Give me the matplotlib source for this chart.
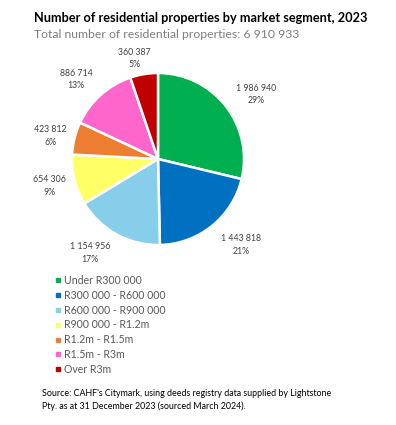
import numpy as np
import matplotlib.pyplot as plt
from matplotlib.lines import Line2D

plt.rcParams['font.family'] = ['Lato', 'DejaVu Sans']

segments = ['Under R300 000', 'R300 000 - R600 000', 'R600 000 - R900 000',
            'R900 000 - R1.2m', 'R1.2m - R1.5m', 'R1.5m - R3m', 'Over R3m']
counts = [1986940, 1443818, 1154956, 654306, 423812, 886714, 360387]
count_labels = ['1 986 940', '1 443 818', '1 154 956', '654 306', '423 812', '886 714', '360 387']
pct_labels = ['29%', '21%', '17%', '9%', '6%', '13%', '5%']
colors = ['#00B050', '#0070C0', '#87CEEB', '#FFFF66', '#ED7D31', '#FF66CC', '#C00000']

# how far out each data label sits (in pie radii), like the Excel best-fit placement
label_dist = [1.37, 1.39, 1.35, 1.30, 1.28, 1.33, 1.20]
label_turn = [-5, 5, -7, 0, 2, 4, 4]  # small angular nudges, degrees

fig = plt.figure(figsize=(3.96, 4.25), dpi=100)

fig.text(34 / 396, 1 - 18 / 425, 'Number of residential properties by market segment, 2023',
         fontsize=9.2, fontweight='bold', color='black', va='center', ha='left')
fig.text(34 / 396, 1 - 35 / 425, 'Total number of residential properties: 6 910 933',
         fontsize=8.8, color='#7f7f7f', va='center', ha='left')

ax = fig.add_axes([72 / 396, 1 - 245 / 425, 172 / 396, 172 / 425])
labels = [f'{c}\n{p}' for c, p in zip(count_labels, pct_labels)]
wedges, texts = ax.pie(counts, colors=colors, startangle=90, counterclock=False,
                       labels=labels,
                       wedgeprops=dict(edgecolor='white', linewidth=1.8))
ax.set_xlim(-1, 1)
ax.set_ylim(-1, 1)
for w, t, d, turn in zip(wedges, texts, label_dist, label_turn):
    ang = np.deg2rad((w.theta1 + w.theta2) / 2 + turn)
    t.set_position((d * np.cos(ang), d * np.sin(ang)))
    t.set_ha('center')
    t.set_va('center')
    t.set_fontsize(6.3)
    t.set_color('#404040')
    t.set_linespacing(1.5)
ax.set_aspect('equal')

handles = [Line2D([], [], marker='s', linestyle='', markersize=3.2,
                  markerfacecolor=c, markeredgecolor=c) for c in colors]
fig.legend(handles, segments, loc='upper left', bbox_to_anchor=(55 / 396, 1 - 275 / 425),
           frameon=False, fontsize=7.6, labelcolor='#595959', handlelength=0.6,
           handletextpad=0.3, labelspacing=0.36, borderpad=0, borderaxespad=0)

fig.text(42 / 396, 1 - 400 / 425,
         "Source: CAHF's Citymark, using deeds registry data supplied by Lightstone\n"
         "Pty. as at 31 December 2023 (sourced March 2024).",
         fontsize=6.4, color='black', va='center', ha='left', linespacing=1.4)

fig.savefig('out.png', dpi=100)
